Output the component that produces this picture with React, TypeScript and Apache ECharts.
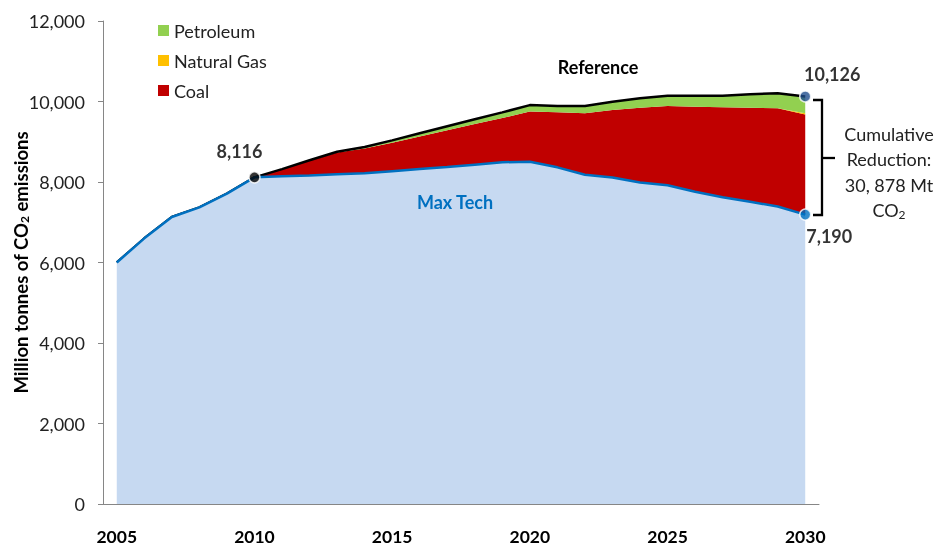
import React, { useEffect, useRef } from "react";
import * as echarts from "echarts";

const years = [
  "2005", "2006", "2007", "2008", "2009", "2010", "2011", "2012", "2013",
  "2014", "2015", "2016", "2017", "2018", "2019", "2020", "2021", "2022",
  "2023", "2024", "2025", "2026", "2027", "2028", "2029", "2030",
];

const maxTech = [
  6000, 6600, 7130, 7370, 7710, 8116, 8140, 8160, 8190, 8220, 8270, 8320,
  8370, 8430, 8490, 8505, 8364, 8180, 8110, 7985, 7920, 7760, 7620, 7510,
  7390, 7190,
];

const coal = [
  0, 0, 0, 0, 0, 0, 170, 370, 540, 610, 705, 810, 915, 1010, 1100, 1245,
  1366, 1525, 1680, 1860, 1968, 2110, 2235, 2336, 2440, 2490,
];

const naturalGas = [
  0, 0, 0, 0, 0, 0, 0, 0, 0, 0, 0, 0, 0, 0, 0, 0, 0, 0, 0, 0, 0, 0, 0, 0,
  5, 30,
];

const petroleum = [
  0, 0, 0, 0, 0, 0, 10, 10, 20, 40, 60, 80, 100, 120, 140, 160, 160, 185,
  205, 235, 257, 275, 290, 334, 370, 416,
];

const calloutYears = ["2010", "2030", "2030"];
const calloutValues = [8116, 10126, 7190];

const FONT = "Lato";

export default function App() {
  const ref = useRef<HTMLDivElement>(null);

  useEffect(() => {
    if (!ref.current) return;
    const chart = echarts.init(ref.current, undefined, { renderer: "svg" });

    const dotColors = ["#000000", "#1F4E8C", "#0070C0"];
    const dotOffsets = [
      [-15, -26],
      [27, -22],
      [24, 21],
    ];

    const option: any = {
      animation: false,
      textStyle: { fontFamily: FONT },
      grid: { left: 103, right: 117, top: 21, bottom: 42, containLabel: false, outerBoundsMode: "none" },
      legend: {
        orient: "vertical",
        left: 158,
        top: 21,
        padding: 0,
        icon: "rect",
        itemWidth: 11,
        itemHeight: 11,
        itemGap: 11,
        itemStyle: { borderWidth: 0 },
        lineStyle: { width: 0 },
        textStyle: { fontSize: 18, color: "#222", fontFamily: FONT, lineHeight: 19 },
        data: [
          { name: "Petroleum", itemStyle: { color: "#92D050", borderWidth: 0 } },
          { name: "Natural Gas", itemStyle: { color: "#FFC000", borderWidth: 0 } },
          { name: "Coal", itemStyle: { color: "#C00000", borderWidth: 0 } },
        ],
      },
      xAxis: {
        type: "category",
        data: years,
        boundaryGap: true,
        axisLine: { lineStyle: { color: "#868686", width: 1 } },
        axisTick: { show: false },
        axisLabel: {
          interval: 4,
          fontSize: 17.5,
          fontWeight: "bold",
          color: "#000",
          margin: 23,
          fontFamily: FONT,
        },
        splitLine: { show: false },
      },
      yAxis: {
        type: "value",
        min: 0,
        max: 12000,
        interval: 2000,
        name: "Million tonnes of CO{sub|2} emissions",
        nameLocation: "middle",
        nameRotate: 90,
        nameGap: 73,
        nameMoveOverlap: false,
        nameTextStyle: {
          fontSize: 18.5,
          fontWeight: "bold",
          color: "#000",
          fontFamily: FONT,
          rich: {
            sub: { fontSize: 12, fontWeight: "bold", color: "#000", fontFamily: FONT, padding: [7, 0, 0, 0] },
          },
        },
        axisLine: { show: true, lineStyle: { color: "#868686", width: 1 } },
        axisTick: { show: true, length: 5, lineStyle: { color: "#868686" } },
        axisLabel: {
          fontSize: 18,
          color: "#222",
          margin: 18,
          fontFamily: FONT,
          formatter: (v: number) => v.toLocaleString("en-US"),
        },
        splitLine: { show: false },
      },
      series: [
        {
          name: "Max Tech",
          type: "line",
          stack: "total",
          data: maxTech,
          symbol: "none",
          z: 3,
          lineStyle: { color: "#0070C0", width: 2.5 },
          itemStyle: { color: "#0070C0" },
          areaStyle: { color: "#C6D9F1", opacity: 1 },
        },
        {
          name: "Coal",
          type: "line",
          stack: "total",
          data: coal,
          symbol: "none",
          z: 2,
          lineStyle: { width: 0, color: "#C00000" },
          itemStyle: { color: "#C00000" },
          areaStyle: { color: "#C00000", opacity: 1 },
        },
        {
          name: "Natural Gas",
          type: "line",
          stack: "total",
          data: naturalGas,
          symbol: "none",
          z: 2,
          lineStyle: { width: 0, color: "#FFC000" },
          itemStyle: { color: "#FFC000" },
          areaStyle: { color: "#FFC000", opacity: 1 },
        },
        {
          name: "Petroleum",
          type: "line",
          stack: "total",
          data: petroleum,
          symbol: "none",
          z: 2,
          lineStyle: { width: 2.5, color: "#000" },
          itemStyle: { color: "#92D050" },
          areaStyle: { color: "#92D050", opacity: 1 },
        },
        {
          name: "callouts",
          type: "scatter",
          z: 5,
          symbolSize: 11,
          data: calloutYears.map((y, i) => ({
            value: [y, calloutValues[i]],
            itemStyle: { color: dotColors[i], borderColor: "#fff", borderWidth: 1.5 },
            label: { offset: dotOffsets[i] },
          })),
          label: {
            show: true,
            position: "inside",
            fontSize: 18,
            fontWeight: "bold",
            color: "#000",
            fontFamily: FONT,
            formatter: (p: any) => Number(p.value[1]).toLocaleString("en-US"),
          },
        },
      ],
      graphic: [
        {
          type: "text",
          x: 598,
          y: 67,
          z: 10,
          style: {
            text: "Reference",
            fill: "#000",
            font: `bold 18px ${FONT}`,
            align: "center",
            verticalAlign: "middle",
          },
        },
        {
          type: "text",
          x: 455,
          y: 202,
          z: 10,
          style: {
            text: "Max Tech",
            fill: "#0070C0",
            font: `bold 18px ${FONT}`,
            align: "center",
            verticalAlign: "middle",
          },
        },
        {
          type: "polyline",
          z: 10,
          shape: { points: [[813, 100], [822, 100], [822, 215], [813, 215]] },
          style: { stroke: "#000", lineWidth: 2.3, fill: null },
        },
        {
          type: "line",
          z: 10,
          shape: { x1: 822, y1: 158, x2: 835, y2: 158 },
          style: { stroke: "#000", lineWidth: 2.3 },
        },
        {
          type: "text",
          x: 889,
          y: 172,
          z: 10,
          style: {
            text: "Cumulative\nReduction:\n30, 878 Mt\nCO{sub|2}",
            fill: "#222",
            fontSize: 18,
            fontFamily: FONT,
            lineHeight: 25.5,
            align: "center",
            verticalAlign: "middle",
            rich: {
              sub: { fontSize: 12, fontFamily: FONT, fill: "#222", padding: [8, 0, 0, 0] },
            },
          },
        },
      ],
    };

    chart.setOption(option);
    return () => chart.dispose();
  }, []);

  return (
    <div
      ref={ref}
      style={{ position: "fixed", left: 0, top: 0, width: 936, height: 546 }}
    />
  );
}
